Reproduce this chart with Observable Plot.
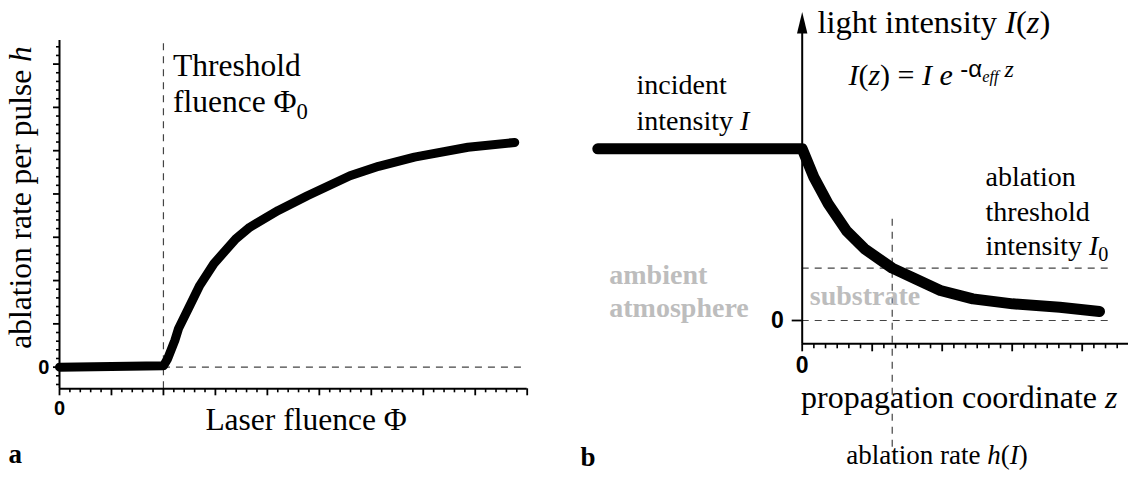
<!DOCTYPE html>
<html>
<head>
<meta charset="utf-8">
<script src="https://cdn.jsdelivr.net/npm/d3@7"></script>
<script src="https://cdn.jsdelivr.net/npm/@observablehq/plot@0.6"></script>
<style>
  body { margin: 0; background: #fff; }
  #fig { position: relative; width: 1128px; height: 482px; overflow: hidden; background: #fff; }
  #fig > div { position: absolute; top: 0; }
  #panelA { left: 0; }
  #panelB { left: 564px; }
</style>
</head>
<body>
<div id="fig"><div id="panelA"></div><div id="panelB"></div></div>
<script>
// ---- Panel a: ablation rate per pulse h versus laser fluence Φ ----
const fluence = [0, 2.0, 2.08, 2.22, 2.29, 2.49, 2.70, 2.97, 3.39, 3.66, 4.21, 4.77, 5.59, 6.14, 6.83, 7.86, 8.76];
const ablationRate = [0, 0.03, 0.19, 0.62, 0.89, 1.38, 1.89, 2.39, 2.96, 3.23, 3.62, 3.96, 4.42, 4.64, 4.85, 5.08, 5.19];
const thresholdFluence = 2;
const fluenceDomain = [0, 9];
const rateDomain = [-0.5, 7.545];
const fluenceMajor = d3.range(0, 10);
const fluenceMinor = d3.range(0, 46).filter(i => i % 5 !== 0).map(i => i / 5);
const rateMajor = d3.range(0, 8);
const rateMinor = d3.range(-2, 38).filter(i => i % 5 !== 0).map(i => i / 5);

// ---- Panel b: light intensity I(z) along the propagation coordinate z ----
const depth = [-2.92, 0, 0.166, 0.371, 0.63, 0.889, 1.286, 1.613, 1.974, 2.439, 3.007, 3.68, 4.247];
const intensity = [1, 1, 0.835, 0.68, 0.524, 0.418, 0.305, 0.243, 0.175, 0.126, 0.097, 0.077, 0.052];
const thresholdIntensity = 0.305;   // I0
const ablationDepth = 1.286;        // z where I(z) = I0, i.e. h(I)
const depthDomain = [0, 4.66];
const intensityDomain = [-0.1357, 1.7956];
const depthMajor = [0, 1, 2, 3, 4];
const depthMinor = d3.range(1, 28).filter(i => i % 6 !== 0).map(i => i / 6);
const arrowBase = 1.6715;

// Text labels (positions in data units, multi-line labels split per line)
const labelsA = [
  {x: 2.184, y: 6.714, t: "Threshold"},
  {x: 2.184, y: 5.889, t: "fluence Φ<sub>0</sub>"}
];
const xTitleA = [{x: 4.745, y: -1.462, t: "Laser fluence Φ"}];
const yTitleA = [{x: -0.539, y: 3.919, t: "ablation rate per pulse <i>h</i>"}];
const zeroA = [{x: 0, y: -0.954}, {x: -0.3, y: 0}];
const letterA = [{x: -0.981, y: -2.224, t: "a"}];

const titleB = [{x: 0.217, y: 1.674, t: "light intensity <i>I</i>(<i>z</i>)"}];
const formulaB = [{x: 0.66, y: 1.374, t: "<i>I</i>(<i>z</i>) = <i>I e</i> <sup><sans>-α</sans><low><i>eff</i></low> <i>z</i></sup>"}];
const labelsB = [
  {x: -2.367, y: 1.320, t: "incident"},
  {x: -2.367, y: 1.112, t: "intensity <i>I</i>"},
  {x: 2.619, y: 0.786, t: "ablation"},
  {x: 2.619, y: 0.582, t: "threshold"},
  {x: 2.619, y: 0.379, t: "intensity <i>I</i><sub>0</sub>"}
];
const mediaB = [
  {x: -2.756, y: 0.2138, t: "ambient"},
  {x: -2.756, y: 0.0192, t: "atmosphere"},
  {x: 0.109, y: 0.0874, t: "substrate"}
];
const xTitleB = [{x: -0.016, y: -0.51, t: "propagation coordinate <i>z</i>"}];
const rateTitleB = [{x: 0.63, y: -0.835, t: "ablation rate <i>h</i>(<i>I</i>)"}];
const zeroB = [{x: -0.353, y: 0}, {x: 0, y: -0.262}];
const letterB = [{x: -3.167, y: -0.845, t: "b"}];

const serif = "'Liberation Serif', 'Times New Roman', serif";
const sans = "'Liberation Sans', Arial, sans-serif";
const dash = {stroke: "#444", strokeWidth: 1.2, strokeDasharray: "7,6"};
const noText = {tickFormat: () => "", label: null, stroke: "#000"};

// Narrow filled arrow head for the intensity axis
const arrowHead = {
  draw(context) {
    context.moveTo(0, -21.5);
    context.lineTo(5.2, 0);
    context.lineTo(-5.2, 0);
    context.closePath();
  }
};

const txt = (data, opts) => Plot.text(data, {x: "x", y: "y", text: "t", lineAnchor: "bottom", textAnchor: "start", fill: "#000", fontFamily: serif, ...opts});

const plotA = Plot.plot({
  width: 564, height: 482,
  marginLeft: 59, marginRight: 37.3, marginTop: 40, marginBottom: 93.7,
  x: {domain: fluenceDomain, label: null},
  y: {domain: rateDomain, label: null},
  style: {background: "transparent", overflow: "visible"},
  marks: [
    Plot.ruleX([thresholdFluence], {y1: rateDomain[0], y2: 7.5, ...dash}),
    Plot.ruleY([0], {x1: thresholdFluence, x2: fluenceDomain[1], ...dash}),
    Plot.axisX(fluenceMinor, {tickSize: 4, strokeWidth: 1.6, ...noText}),
    Plot.axisX(fluenceMajor, {tickSize: 7, strokeWidth: 1.8, ...noText}),
    Plot.axisY(rateMinor, {tickSize: 3, strokeWidth: 1.6, ...noText}),
    Plot.axisY(rateMajor, {tickSize: 6, strokeWidth: 1.8, ...noText}),
    Plot.ruleX([0], {y1: rateDomain[0], y2: rateDomain[1], stroke: "#000", strokeWidth: 2}),
    Plot.ruleY([rateDomain[0]], {x1: 0, x2: fluenceDomain[1], stroke: "#000", strokeWidth: 2}),
    Plot.line(fluence.map((x, i) => ({x, y: ablationRate[i]})), {x: "x", y: "y", stroke: "#000", strokeWidth: 9, strokeLinejoin: "round"}),
    txt(labelsA, {fontSize: 31.5}),
    txt(xTitleA, {fontSize: 31.5, textAnchor: "middle"}),
    txt(yTitleA, {fontSize: 31.5, textAnchor: "middle", rotate: -90}),
    Plot.text(zeroA, {x: "x", y: "y", text: () => "0", fontFamily: sans, fontWeight: "bold", fontSize: 20, lineAnchor: "middle", textAnchor: "middle", fill: "#000"}),
    txt(letterA, {fontSize: 27, fontWeight: "bold"})
  ]
});

const plotB = Plot.plot({
  width: 564, height: 482,
  marginLeft: 237.7, marginRight: 0.1, marginTop: 11.7, marginBottom: 138.7,
  x: {domain: depthDomain, label: null},
  y: {domain: intensityDomain, label: null},
  style: {background: "transparent", overflow: "visible"},
  marks: [
    Plot.ruleY([thresholdIntensity], {x1: 0, x2: 4.454, ...dash}),
    Plot.ruleY([0], {x1: 0, x2: 4.454, ...dash}),
    Plot.ruleX([ablationDepth], {y1: -0.738, y2: 0.602, ...dash}),
    Plot.axisX(depthMinor, {tickSize: 5, strokeWidth: 1.6, ...noText}),
    Plot.axisX(depthMajor, {tickSize: 8, strokeWidth: 1.8, ...noText}),
    Plot.axisY([0], {tickSize: 10, strokeWidth: 1.8, ...noText}),
    Plot.ruleY([intensityDomain[0]], {x1: 0, x2: depthDomain[1] + 0.2, stroke: "#000", strokeWidth: 2}),
    Plot.ruleX([0], {y1: intensityDomain[0], y2: arrowBase, stroke: "#000", strokeWidth: 2}),
    Plot.dot([arrowBase], {x: () => 0, y: d => d, symbol: arrowHead, fill: "#000", r: 5}),
    Plot.line(depth.map((x, i) => ({x, y: intensity[i]})), {x: "x", y: "y", stroke: "#000", strokeWidth: 11, strokeLinejoin: "round"}),
    txt(titleB, {fontSize: 32.5}),
    txt(formulaB, {fontSize: 30}),
    txt(labelsB, {fontSize: 28}),
    txt(mediaB, {fontSize: 28, fontWeight: "bold", fill: "#bdbdbd"}),
    txt(xTitleB, {fontSize: 32}),
    txt(rateTitleB, {fontSize: 27}),
    Plot.text(zeroB, {x: "x", y: "y", text: () => "0", fontFamily: sans, fontWeight: "bold", fontSize: 23, lineAnchor: "middle", textAnchor: "middle", fill: "#000"}),
    txt(letterB, {fontSize: 27, fontWeight: "bold"})
  ]
});

// Turn the small inline markup (<i>, <sub>, <sup>, <low>, <sans>) into styled tspans
function richText(svg) {
  const open = {
    i: '<tspan font-style="italic">',
    sub: '<tspan style="font-size:72%;baseline-shift:-0.3em">',
    sup: '<tspan style="font-size:80%;baseline-shift:0.35em">',
    low: '<tspan style="font-size:68%;baseline-shift:-0.35em">',
    sans: '<tspan font-family="' + sans.replace(/'/g, "") + '" font-style="normal">'
  };
  svg.querySelectorAll("text").forEach(el => {
    const s = el.textContent;
    if (!s.includes("<")) return;
    el.innerHTML = s.replace(/<(\/?)(\w+)>/g, (m, close, name) => close ? "</tspan>" : open[name]);
  });
}

richText(plotA);
richText(plotB);
document.getElementById("panelA").append(plotA);
document.getElementById("panelB").append(plotB);
</script>
</body>
</html>
